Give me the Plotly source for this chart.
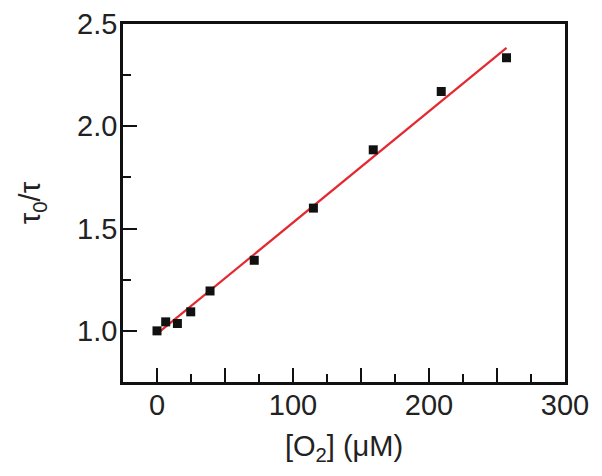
import plotly.graph_objects as go

# Data
o2_uM = [0, 6.4, 15, 24.8, 39, 71.5, 115, 159, 209, 257]
tau_ratio = [1.0, 1.044, 1.036, 1.093, 1.195, 1.345, 1.60, 1.885, 2.17, 2.335]

fit_x = [2, 257]
fit_y = [0.996, 2.383]

x_tickvals = [0, 100, 200, 300]
x_ticktext = ["0", "100", "200", "300"]
x_mid_ticks = [50, 150, 250]
y_tickvals = [1.0, 1.5, 2.0, 2.5]
y_ticktext = ["1.0", "1.5", "2.0", "2.5"]

fig = go.Figure()
fig.add_trace(go.Scatter(x=fit_x, y=fit_y, mode="lines",
                         line=dict(color="#e4282f", width=2.2), showlegend=False))
fig.add_trace(go.Scatter(x=o2_uM, y=tau_ratio, mode="markers",
                         marker=dict(symbol="square", size=9, color="#111111"),
                         showlegend=False))

font = "Liberation Sans, Arial, sans-serif"
fs = 29
tick_common = dict(ticks="inside", ticklen=14, tickwidth=2, tickcolor="#111111")
fig.update_layout(
    width=594, height=468,
    margin=dict(l=115, r=37, t=16, b=94),
    plot_bgcolor="white", paper_bgcolor="white",
    font=dict(family=font, size=fs, color="#222222"),
    xaxis=dict(range=[-25, 300], showline=True, linecolor="#111111", linewidth=2.5,
               mirror=True, showgrid=False, zeroline=False, automargin=False,
               tickmode="array", tickvals=x_tickvals, ticktext=x_ticktext,
               ticklabelstandoff=-5,
               minor=dict(dtick=25, tick0=0, ticks="inside", ticklen=8, tickwidth=2,
                          tickcolor="#111111", showgrid=False),
               tickfont=dict(size=fs),
               title=dict(text="[O<sub>2</sub>] (μM)", font=dict(size=fs), standoff=17),
               **tick_common),
    xaxis2=dict(range=[-25, 300], overlaying="x", matches="x", side="bottom",
                showline=False, showgrid=False, zeroline=False, automargin=False,
                tickmode="array", tickvals=x_mid_ticks, showticklabels=False,
                **tick_common),
    yaxis=dict(range=[0.75, 2.5], showline=True, linecolor="#111111", linewidth=2.5,
               mirror=True, showgrid=False, zeroline=False, automargin=False,
               tickmode="array", tickvals=y_tickvals, ticktext=y_ticktext,
               ticklabelstandoff=-3,
               minor=dict(dtick=0.25, tick0=0.75, ticks="inside", ticklen=8, tickwidth=2,
                          tickcolor="#111111", showgrid=False),
               tickfont=dict(size=fs),
               title=dict(text="τ<sub>0</sub>/τ", font=dict(size=fs), standoff=28),
               **tick_common),
)
# invisible trace to activate xaxis2
fig.add_trace(go.Scatter(x=[o2_uM[0]], y=[tau_ratio[0]], xaxis="x2", mode="markers",
                         marker=dict(opacity=0), showlegend=False, hoverinfo="skip"))

fig.write_html("out.html")
